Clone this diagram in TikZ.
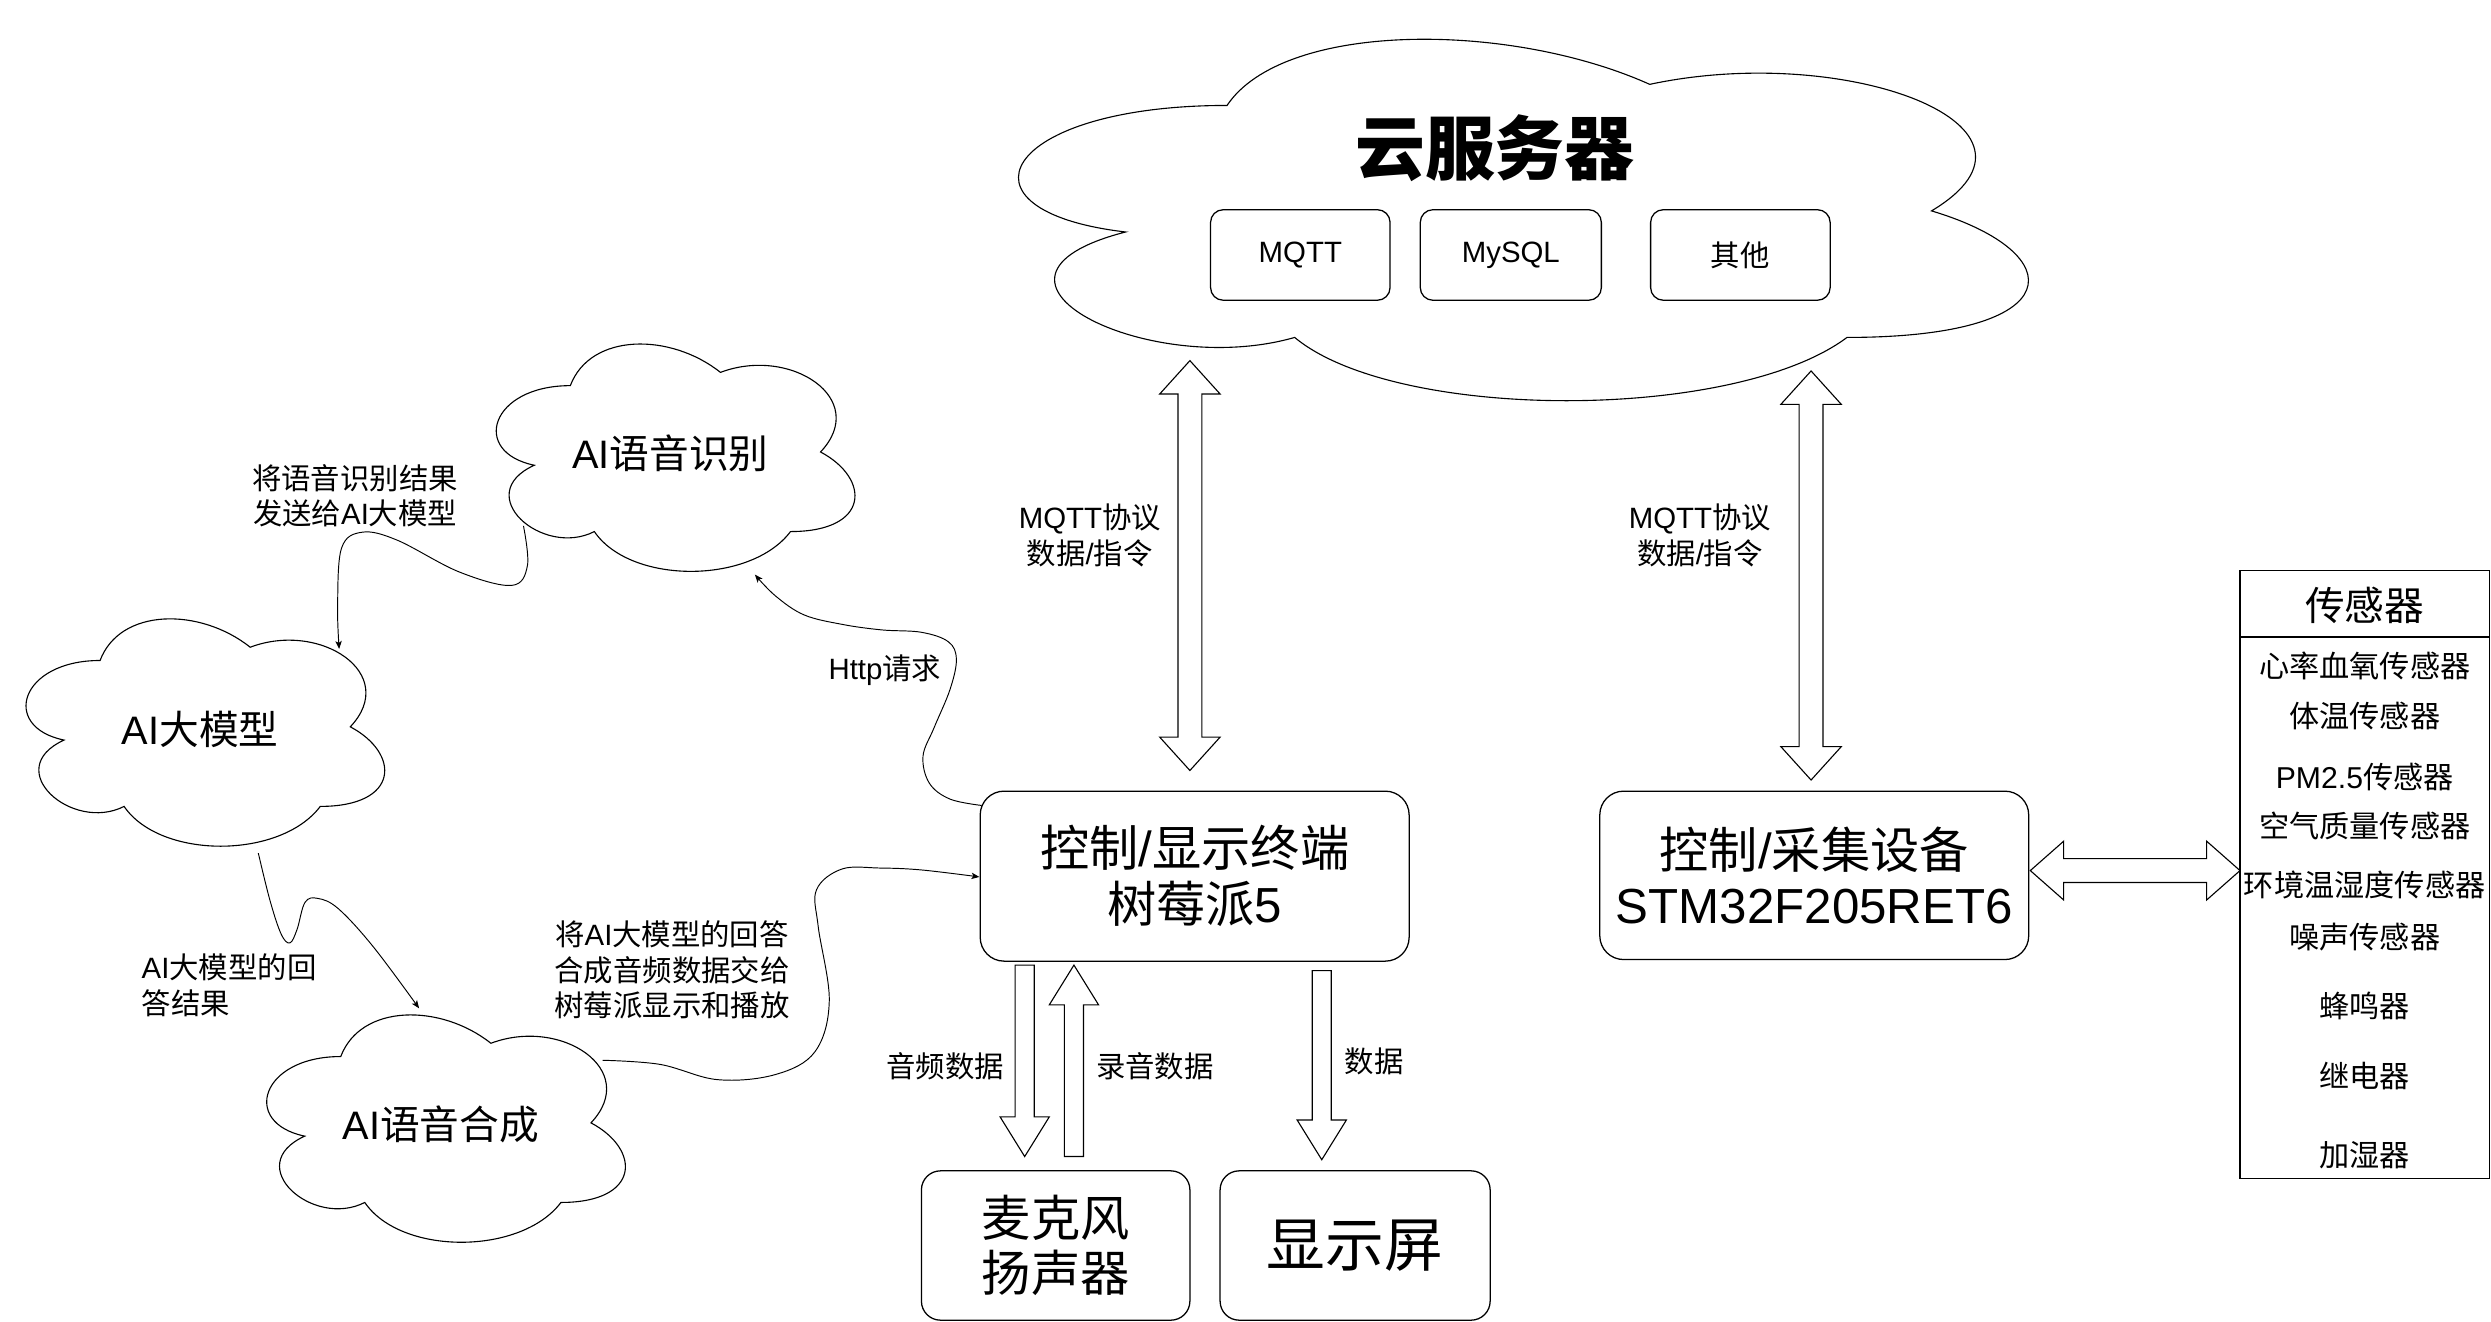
\documentclass[tikz,border=0pt]{standalone}
\usepackage{fontspec}
\setmainfont{Noto Sans CJK SC}
\newfontfamily\lt{Liberation Sans}
\usetikzlibrary{arrows.meta,calc}
\newcommand\fsz[2]{\fontsize{#1}{#2}\selectfont}
\newcommand\mxcloud[4]{%
  \begin{scope}[shift={(#1,#2)}, x=#3pt, y=-#4pt]
    \draw[thinline] (0.25,0.25) .. controls (0.05,0.25) and (0,0.5) .. (0.16,0.55)
      .. controls (0,0.66) and (0.18,0.9) .. (0.31,0.8)
      .. controls (0.4,1) and (0.7,1) .. (0.8,0.8)
      .. controls (1,0.8) and (1,0.6) .. (0.875,0.5)
      .. controls (1,0.3) and (0.8,0.1) .. (0.625,0.2)
      .. controls (0.5,0.05) and (0.3,0.05) .. (0.25,0.25) -- cycle;
  \end{scope}}
\newcommand\vdouble[2]{%
  \draw[blk] let \p1=(#1), \p2=(#2) in
    (\x1,\y1) -- (\x1+19pt,\y1-21pt) -- (\x1+7.5pt,\y1-21pt) -- (\x1+7.5pt,\y2+21pt)
    -- (\x1+19pt,\y2+21pt) -- (\x1,\y2) -- (\x1-19pt,\y2+21pt) -- (\x1-7.5pt,\y2+21pt)
    -- (\x1-7.5pt,\y1-21pt) -- (\x1-19pt,\y1-21pt) -- cycle;}
\newcommand\hdouble[2]{%
  \draw[blk] let \p1=(#1), \p2=(#2) in
    (\x1,\y1) -- (\x1+21pt,\y1+18.5pt) -- (\x1+21pt,\y1+7.5pt) -- (\x2-21pt,\y1+7.5pt)
    -- (\x2-21pt,\y1+18.5pt) -- (\x2,\y1) -- (\x2-21pt,\y1-18.5pt) -- (\x2-21pt,\y1-7.5pt)
    -- (\x1+21pt,\y1-7.5pt) -- (\x1+21pt,\y1-18.5pt) -- cycle;}
\newcommand\sdown[2]{%
  \draw[blk] let \p1=(#1), \p2=(#2) in
    (\x1-6pt,\y1) -- (\x1+6pt,\y1) -- (\x1+6pt,\y2+25pt) -- (\x1+15.5pt,\y2+25pt)
    -- (\x1,\y2) -- (\x1-15.5pt,\y2+25pt) -- (\x1-6pt,\y2+25pt) -- cycle;}
\newcommand\supward[2]{%
  \draw[blk] let \p1=(#1), \p2=(#2) in
    (\x1,\y1) -- (\x1+15.5pt,\y1-25pt) -- (\x1+6pt,\y1-25pt) -- (\x1+6pt,\y2)
    -- (\x1-6pt,\y2) -- (\x1-6pt,\y1-25pt) -- (\x1-15.5pt,\y1-25pt) -- cycle;}
\tikzset{
  thinline/.style={line width=0.7pt},
  blk/.style={line width=0.7pt, line join=miter},
  box/.style={draw, line width=0.8pt, align=center, inner sep=0pt},
  conn/.style={line width=0.6pt, -{Stealth[length=5pt,width=4pt,inset=1.2pt]}},
  lbl/.style={align=center, inner sep=0pt, font=\fsz{18.5}{22.5}},
  cloudtxt/.style={inner sep=0pt, font=\fsz{25}{30}},
  sens/.style={inner sep=0pt, font=\fsz{19}{22}},
}
\begin{document}
\begin{tikzpicture}[x=1pt, y=-1pt]
\useasboundingbox (0,0) rectangle (1568,832);
% clouds
\mxcloud{595}{0}{709.5}{265.5}
\mxcloud{296}{201}{252}{167}
\mxcloud{0}{374}{252}{167}
\mxcloud{151.5}{623.3}{252}{167}
\node[inner sep=0pt, font=\fsz{44}{50}\bfseries] (cloudtitle) at (941,93) {云服务器};
\node[cloudtxt] (asr) at (422,285.5) {{\lt AI}语音识别};
\node[cloudtxt] (llm) at (126,459) {{\lt AI}大模型};
\node[cloudtxt] (tts) at (277.5,707.5) {{\lt AI}语音合成};
% boxes in cloud
\node[box, rounded corners=8pt, minimum width=113pt, minimum height=57pt, font=\fsz{18.5}{22}] (mqtt) at (818.5,160.5) {{\lt MQTT}};
\node[box, rounded corners=8pt, minimum width=114pt, minimum height=57pt, font=\fsz{18.5}{22}] (mysql) at (951,160.5) {{\lt MySQL}};
\node[box, rounded corners=8pt, minimum width=113pt, minimum height=57pt, font=\fsz{18.5}{22}] (other) at (1095.5,160.5) {其他};
% main boxes
\node[box, rounded corners=15pt, minimum width=270pt, minimum height=107pt, font=\fsz{31}{35}] (pi) at (752,551.5) {控制{\lt /}显示终端\\树莓派{\lt 5}};
\node[box, rounded corners=15pt, minimum width=270pt, minimum height=106pt, font=\fsz{31}{35}] (stm) at (1142,551) {控制{\lt /}采集设备\\{\lt STM32F205RET6}};
\node[box, rounded corners=12pt, minimum width=169pt, minimum height=94pt, font=\fsz{31}{35}] (mic) at (664.5,784) {麦克风\\扬声器};
\node[box, rounded corners=12pt, minimum width=170pt, minimum height=94pt, font=\fsz{37}{40}] (scr) at (853,784) {显示屏};
% sensor table
\node[draw, line width=0.8pt, minimum width=157pt, minimum height=383pt, inner sep=0pt] (sensbox) at (1488.5,550.5) {};
\draw[line width=0.8pt] (sensbox.west |- 0,401) -- (sensbox.east |- 0,401);
\node[inner sep=0pt, font=\fsz{25}{30}] (senshead) at (1488.5,381) {传感器};
\node[sens] (s1) at (1488.5,419) {心率血氧传感器};
\node[sens] (s2) at (1488.5,451) {体温传感器};
\node[sens] (s3) at (1488.5,489) {{\lt PM2.5}传感器};
\node[sens] (s4) at (1488.5,520) {空气质量传感器};
\node[sens] (s5) at (1488.5,557) {环境温湿度传感器};
\node[sens] (s6) at (1488.5,590) {噪声传感器};
\node[sens] (s7) at (1488.5,633) {蜂鸣器};
\node[sens] (s8) at (1488.5,677) {继电器};
\node[sens] (s9) at (1488.5,727) {加湿器};
% block arrows
\coordinate (a1t) at (749,227);
\coordinate (a1b) at (749,485);
\vdouble{a1t}{a1b}
\coordinate (a2t) at (1140,233.5);
\coordinate (a2b) at (1140,491);
\vdouble{a2t}{a2b}
\coordinate (a3l) at (1278,548);
\coordinate (a3r) at (1410,548);
\hdouble{a3l}{a3r}
\coordinate (a4t) at (645,607.5);
\coordinate (a4b) at (645,728);
\sdown{a4t}{a4b}
\coordinate (a5t) at (676,607.5);
\coordinate (a5b) at (676,728);
\supward{a5t}{a5b}
\coordinate (a6t) at (832,611);
\coordinate (a6b) at (832,730);
\sdown{a6t}{a6b}
% labels
\node[lbl] (l1) at (686,337) {{\lt MQTT}协议\\数据{\lt /}指令};
\node[lbl] (l2) at (1070,337) {{\lt MQTT}协议\\数据{\lt /}指令};
\node[lbl] (l3) at (595,671) {音频数据};
\node[lbl] (l4) at (727,671) {录音数据};
\node[lbl] (l5) at (865,668) {数据};
\node[lbl] (l6) at (557,422) {{\lt Http}请求};
\node[lbl] (l7) at (223.5,312) {将语音识别结果\\发送给{\lt AI}大模型};
\node[lbl, align=left, anchor=west] (l8) at (89,620) {{\lt AI}大模型的回\\答结果};
\node[lbl] (l9) at (423,610.5) {将{\lt AI}大模型的回答\\合成音频数据交给\\树莓派显示和播放};
% curved connectors
\coordinate (c1s) at (329.5,331);
\coordinate (c1e) at (213.5,408.5);
\draw[conn] plot[smooth, tension=0.6] coordinates {(c1s) (332,356) (322,368.5) (289,360) (250,340) (228,335) (215,345) (212.5,381) (c1e)};
\coordinate (c2s) at (162.6,537);
\coordinate (c2e) at (263.8,634.7);
\draw[conn] plot[smooth, tension=0.6] coordinates {(c2s) (170,567) (177,588) (182.5,593.5) (187,585) (192,568) (200,565.5) (213,572) (235,596) (c2e)};
\coordinate (c3s) at (379.4,667.4);
\coordinate (c3e) at (616.5,552);
\draw[conn] plot[smooth, tension=0.6] coordinates {(c3s) (415.5,670) (451.7,679.6) (488,676.4) (513,662) (522,630) (515,583) (514,560) (530,547) (554,546.4) (580,547.6) (c3e)};
\coordinate (c4s) at (617.9,507);
\coordinate (c4e) at (475.2,361.7);
\draw[conn] plot[smooth, tension=0.6] coordinates {(c4s) (598,503) (585,493) (581,476) (588,458) (598,434) (602,415) (597,404) (580,398) (555,396.5) (530,393) (506,387) (488,375) (c4e)};
\end{tikzpicture}
\end{document}
